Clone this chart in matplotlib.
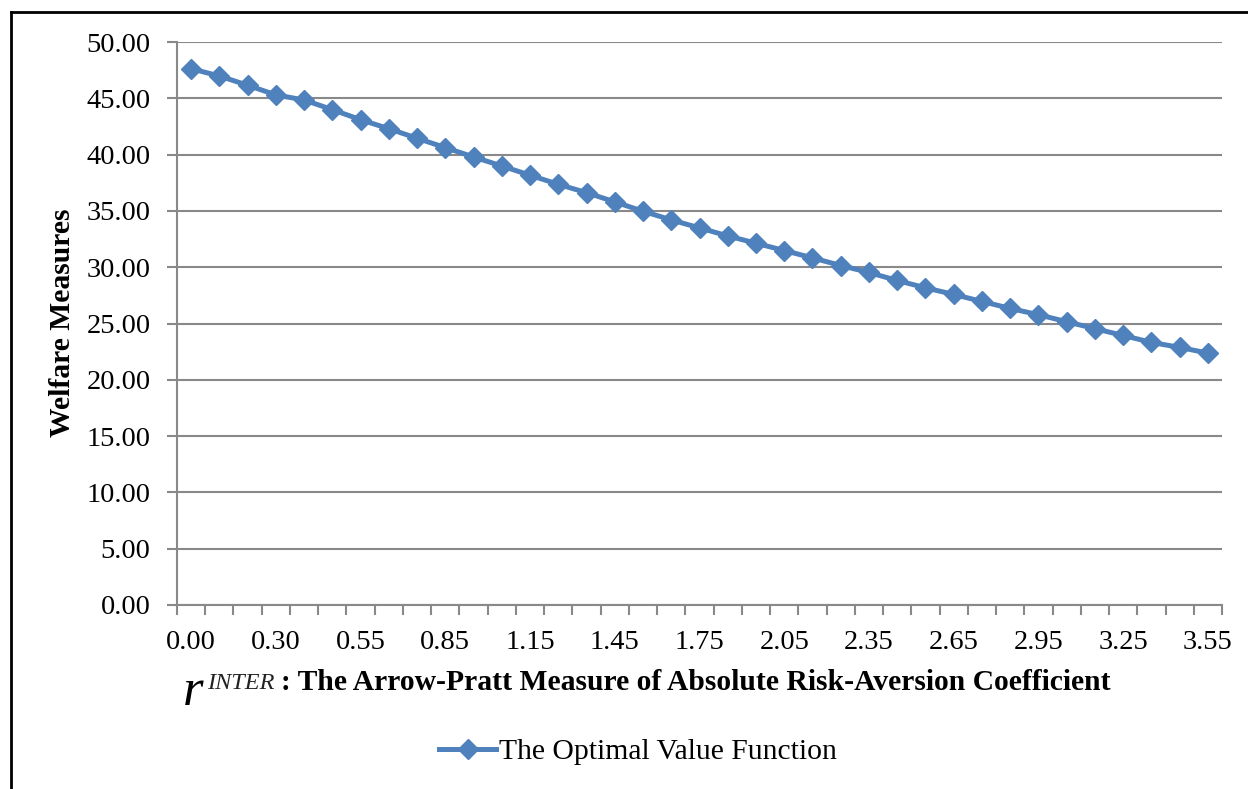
import matplotlib
matplotlib.use("Agg")
import matplotlib.pyplot as plt
from matplotlib.lines import Line2D

# Arrow-Pratt coefficient categories (every third one is labelled on the axis)
r_inter = [0.00, 0.10, 0.20, 0.30, 0.35, 0.45, 0.55, 0.65, 0.75, 0.85,
           0.95, 1.05, 1.15, 1.25, 1.35, 1.45, 1.55, 1.65, 1.75, 1.85,
           1.95, 2.05, 2.15, 2.25, 2.35, 2.45, 2.55, 2.65, 2.75, 2.85,
           2.95, 3.05, 3.15, 3.25, 3.35, 3.45, 3.55]

# Optimal value function (welfare measure) for each coefficient
optimal_value = [47.63, 46.98, 46.16, 45.30, 44.85, 43.99, 43.10, 42.30, 41.45, 40.62,
                 39.79, 38.99, 38.17, 37.36, 36.62, 35.80, 34.97, 34.20, 33.49, 32.78,
                 32.13, 31.48, 30.83, 30.15, 29.53, 28.82, 28.17, 27.58, 26.96, 26.34,
                 25.78, 25.16, 24.54, 23.94, 23.32, 22.88, 22.37]

y_ticks = [0, 5, 10, 15, 20, 25, 30, 35, 40, 45, 50]
label_every = 3
series_name = "The Optimal Value Function"

BLUE = "#4F81BD"
GRID = "#898989"
FONT = "Liberation Serif"

W, H = 1248, 789
fig = plt.figure(figsize=(W / 100, H / 100), dpi=100)
fig.patch.set_facecolor("white")

ax = fig.add_axes([177 / W, 1 - 605 / H, (1222 - 177) / W, (605 - 42) / H])

xs = list(range(len(r_inter)))
ax.plot(xs, optimal_value, color=BLUE, lw=3.6, marker="D", ms=10.5,
        markerfacecolor=BLUE, markeredgecolor=BLUE, solid_joinstyle="round",
        zorder=3, clip_on=False)

ax.set_xlim(-0.5, len(r_inter) - 0.5)
ax.set_ylim(y_ticks[0], y_ticks[-1])

# category boundaries carry the tick marks, labels sit on the categories
ax.set_xticks([i - 0.5 for i in range(len(r_inter) + 1)])
ax.set_xticklabels([])
ax.set_xticks(xs[::label_every], minor=True)
ax.set_xticklabels([f"{r_inter[i]:.2f}" for i in xs[::label_every]], minor=True,
                   fontfamily=FONT, fontsize=20.5)
ax.tick_params(axis="x", which="major", direction="out", length=7, width=1.5,
               color=GRID)
ax.tick_params(axis="x", which="minor", length=0, pad=18)

ax.set_yticks(y_ticks)
ax.set_yticklabels([f"{v:.2f}" for v in y_ticks], fontfamily=FONT, fontsize=20.5)
ax.tick_params(axis="y", direction="out", length=7, width=1.5, color=GRID, pad=12)

ax.grid(axis="y", color=GRID, lw=1.5)
ax.set_axisbelow(True)
for side in ("top", "right"):
    ax.spines[side].set_visible(False)
for side in ("left", "bottom"):
    ax.spines[side].set_color(GRID)
    ax.spines[side].set_linewidth(1.5)
    ax.spines[side].set_zorder(2)

# y-axis title
fig.text(63 / W, 1 - 323 / H, "Welfare Measures", rotation=90, ha="center",
         va="center", fontfamily=FONT, fontsize=21.3, fontweight="bold")

# x-axis title: r^INTER followed by the bold description
fig.text(183 / W, 1 - 705 / H, "r", fontfamily=FONT, fontsize=38,
         fontstyle="italic", ha="left", va="baseline")
fig.text(207 / W, 1 - 689 / H, "INTER", fontfamily=FONT, fontsize=17.5,
         fontstyle="italic", ha="left", va="baseline", color="#222222")
fig.text(281 / W, 1 - 690 / H,
         ": The Arrow-Pratt Measure of Absolute Risk-Aversion Coefficient",
         fontfamily=FONT, fontsize=21.3, fontweight="bold", ha="left", va="baseline")

# legend
handle = Line2D([], [], color=BLUE, lw=3.6, marker="D", ms=10.5,
                markerfacecolor=BLUE, markeredgecolor=BLUE)
fig.legend([handle], [series_name], loc="center", bbox_to_anchor=(638 / W, 1 - 752 / H),
           frameon=False, prop={"family": FONT, "size": 21.3}, handlelength=1.95,
           handletextpad=0.1, borderpad=0)

# outer frame (top and left edges)
fig.add_artist(Line2D([11 / W, 11 / W], [0, 1 - 12 / H], color="black", lw=2,
                      transform=fig.transFigure))
fig.add_artist(Line2D([11 / W, 1], [1 - 12 / H, 1 - 12 / H], color="black", lw=2,
                      transform=fig.transFigure))

fig.savefig("out.png", dpi=100, facecolor="white")
